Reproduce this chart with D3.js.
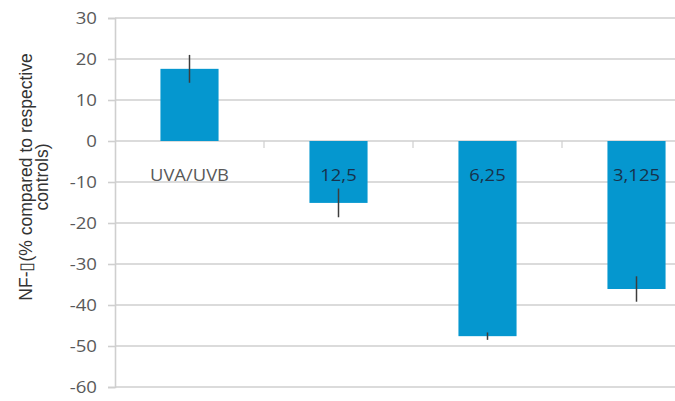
<!DOCTYPE html>
<html>
<head>
<meta charset="utf-8">
<script src="https://cdn.jsdelivr.net/npm/d3@7"></script>
<style>
  html, body { margin: 0; padding: 0; background: #fff; }
  svg { display: block; }
</style>
</head>
<body>
<svg id="chart" width="675" height="401"></svg>
<script>
// Treatment groups and their mean NF-κB change (%) with error half-widths
const categories = ["UVA/UVB", "12,5", "6,25", "3,125"];
const values = [17.6, -15.1, -47.6, -36.1];
const errors = [3.4, 3.5, 0.9, 3.1];
const yTicks = [30, 20, 10, 0, -10, -20, -30, -40, -50, -60];
const yTitleLines = ["NF-\u25AF(% compared to respective", "controls)"];

const svg = d3.select("#chart");
const W = 675;

const x = d3.scaleBand()
  .domain(categories)
  .range([115, 711])
  .paddingInner(0.61)
  .paddingOuter(0.305);

const y = d3.scaleLinear()
  .domain([-60, 30])
  .range([387, 18]);

const gridColor = "#cfcfcf";
const textGray = "#595959";

// horizontal gridlines
svg.append("g")
  .selectAll("line")
  .data(yTicks)
  .join("line")
  .attr("x1", 115).attr("x2", W)
  .attr("y1", d => y(d)).attr("y2", d => y(d))
  .attr("stroke", gridColor)
  .attr("stroke-width", 1.6);

// category separators on the zero line
const bandEdges = categories.slice(1).map(c => x(c) - x.step() * x.paddingInner() / 2);
svg.append("g")
  .selectAll("line")
  .data(bandEdges)
  .join("line")
  .attr("x1", d => d).attr("x2", d => d)
  .attr("y1", y(0)).attr("y2", y(0) + 7)
  .attr("stroke", gridColor)
  .attr("stroke-width", 1.2);

// y axis
const yAxis = svg.append("g")
  .attr("transform", "translate(115,0)")
  .call(d3.axisLeft(y).tickValues(yTicks).tickSize(7).tickFormat(d => String(d)));
yAxis.select(".domain").attr("stroke", gridColor).attr("stroke-width", 1.6);
yAxis.selectAll(".tick line").attr("stroke", gridColor).attr("stroke-width", 1.6);
yAxis.selectAll(".tick text")
  .attr("x", -18 / 1.2)
  .attr("dy", "0.36em")
  .attr("transform", "scale(1.2,1)")
  .attr("fill", textGray)
  .style("font-family", "'Open Sans', sans-serif")
  .style("font-size", "15.5px");

// bars
svg.append("g")
  .selectAll("rect")
  .data(categories)
  .join("rect")
  .attr("x", d => x(d))
  .attr("width", x.bandwidth())
  .attr("y", (d, i) => y(Math.max(0, values[i])))
  .attr("height", (d, i) => Math.abs(y(values[i]) - y(0)))
  .attr("fill", "#0597cf");

// error bars
svg.append("g")
  .selectAll("line")
  .data(categories)
  .join("line")
  .attr("x1", d => x(d) + x.bandwidth() / 2)
  .attr("x2", d => x(d) + x.bandwidth() / 2)
  .attr("y1", (d, i) => y(values[i] + errors[i]))
  .attr("y2", (d, i) => y(values[i] - errors[i]))
  .attr("stroke", "#3d3d3d")
  .attr("stroke-width", 1.5);

// category labels
svg.append("g")
  .selectAll("text")
  .data(categories)
  .join("text")
  .attr("transform", d => `translate(${x(d) + x.bandwidth() / 2},181) scale(1.15,1)`)
  .attr("text-anchor", "middle")
  .attr("fill", (d, i) => i === 0 ? textGray : "#17324c")
  .style("font-family", "'Open Sans', sans-serif")
  .style("font-size", "16px")
  .text(d => d);

// y axis title
svg.append("text")
  .attr("transform", "translate(32,177) rotate(-90)")
  .attr("text-anchor", "middle")
  .attr("fill", "#333")
  .style("font-family", "'Liberation Sans', Arial, sans-serif")
  .style("font-size", "17.5px")
  .selectAll("tspan")
  .data(yTitleLines)
  .join("tspan")
  .attr("x", 0)
  .attr("dy", (d, i) => i === 0 ? 0 : 16)
  .text(d => d);
</script>
</body>
</html>
